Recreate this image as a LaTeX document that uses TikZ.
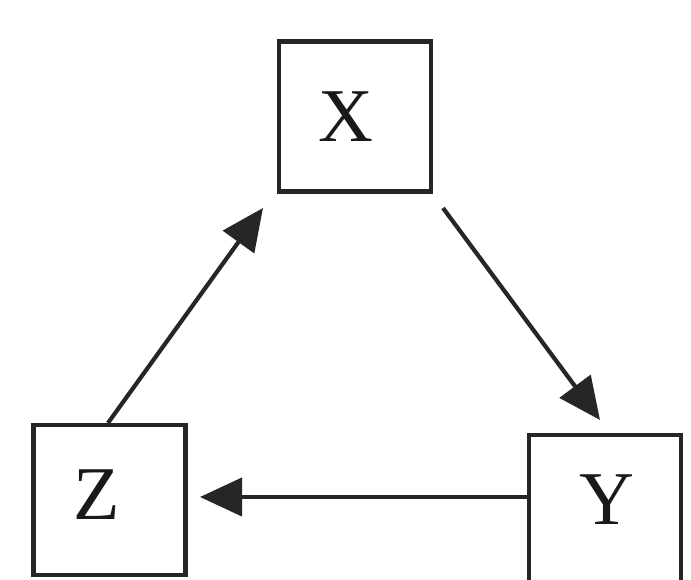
\documentclass[tikz,border=0pt]{standalone}
\usepackage{fontspec}
\setmainfont{Liberation Serif}
\usetikzlibrary{arrows.meta}
\begin{document}
\begin{tikzpicture}[x=1pt,y=1pt,
  box/.style={draw=black!85, line width=4.6pt, minimum width=152pt, minimum height=150pt, inner sep=0pt},
  lbl/.style={inner sep=0pt, text=black!90, font=\fontsize{76}{76}\selectfont},
  conn/.style={line width=4.2pt, black!85, -{Triangle[length=42pt,width=38pt]}}]
\useasboundingbox (0,0) rectangle (691,580);
\node[box] (X) at (355,463.5) {};
\node[box] (Z) at (109.5,80) {};
\node[box] (Y) at (605,70) {};
\node[lbl] (lx) at (346,463) {X};
\node[lbl] (lz) at (97,85) {Z};
\node[lbl] (ly) at (607,80) {Y};
\coordinate (xs) at (443,372);
\coordinate (yt) at (600,160);
\coordinate (ys) at (527,83);
\coordinate (zt) at (200,83);
\coordinate (zs) at (108,157);
\coordinate (xt) at (263,372);
\draw[conn] (xs) -- (yt);
\draw[conn] (ys) -- (zt);
\draw[conn] (zs) -- (xt);
\end{tikzpicture}
\end{document}
